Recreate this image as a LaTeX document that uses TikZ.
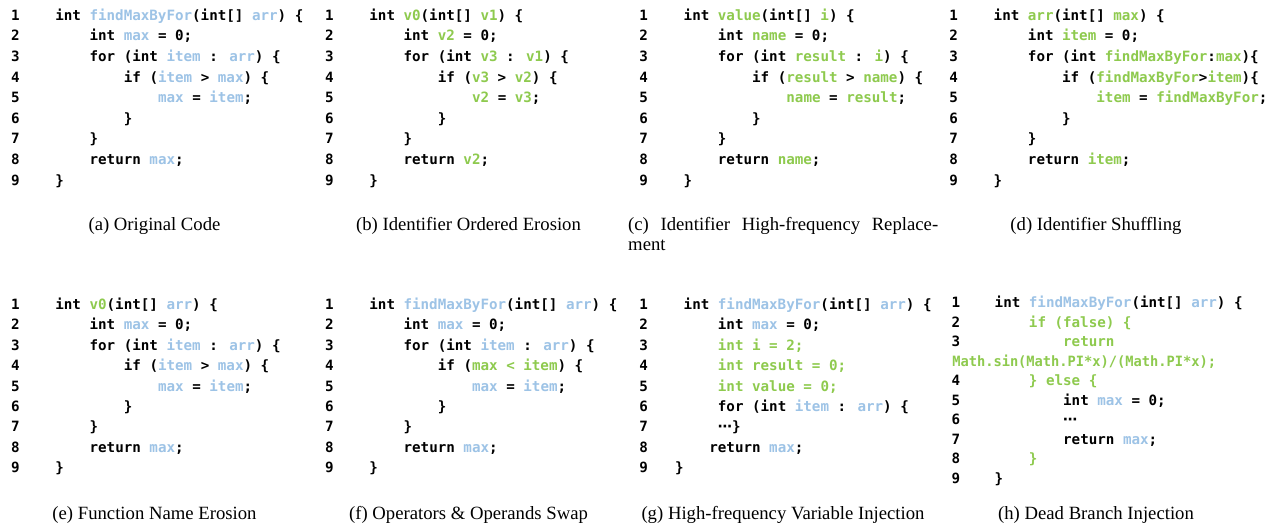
\documentclass[tikz,border=0pt]{standalone}
\usepackage{fontspec}
\usepackage{xcolor}
\usepackage{graphicx}
\usepackage{tikz}
\usetikzlibrary{positioning}
\setmainfont{Liberation Serif}
\newfontfamily\codefam{DejaVu Sans Mono}
\newfontfamily\dotsfam{DejaVu Sans}
\definecolor{idblue}{RGB}{157,195,230}
\definecolor{idgreen}{RGB}{142,202,78}
\newcommand{\idb}[1]{\textcolor{idblue}{#1}}
\newcommand{\idg}[1]{\textcolor{idgreen}{#1}}
\newcommand{\codefont}{\codefam\bfseries\fontsize{14.2pt}{17pt}\selectfont}
\newcommand{\captext}{\fontsize{18.7pt}{22pt}\selectfont}

\begin{document}
\begin{tikzpicture}[
		x=1pt, y=-1pt,
		code/.style={anchor=base west, inner sep=0pt, font=\codefont},
		lnum/.style={anchor=base, inner sep=0pt, font=\codefont},
		subcap/.style={anchor=base, inner sep=0pt, font=\captext}
		]
	
		\path[fill=white, use as bounding box] (0,0) rectangle (1279,527);
	
		% (a) original
		\begin{scope}[shift={(55.2,20.2)}, x=8.56pt, y=-20.6pt]
			\foreach \i in {1,...,9} \node[lnum] (a-n\i) at (-4.65,\i-1) {\i};
			\node[code] (a1) at (0,0) {int \idb{findMaxByFor}(int[] \idb{arr}) \{};
			\node[code] (a2) at (4,1) {int \idb{max} = 0;};
			\node[code] (a3) at (4,2) {for (int \idb{item} : \idb{arr}) \{};
			\node[code] (a4) at (8,3) {if (\idb{item} > \idb{max}) \{};
			\node[code] (a5) at (12,4) {\idb{max} = \idb{item};};
			\node[code] (a6) at (8,5) {\}};
			\node[code] (a7) at (4,6) {\}};
			\node[code] (a8) at (4,7) {return \idb{max};};
			\node[code] (a9) at (0,8) {\}};
		\end{scope}
	
		% (b) ordered erosion
		\begin{scope}[shift={(369.2,20.2)}, x=8.56pt, y=-20.6pt]
			\foreach \i in {1,...,9} \node[lnum] (b-n\i) at (-4.65,\i-1) {\i};
			\node[code] (b1) at (0,0) {int \idg{v0}(int[] \idg{v1}) \{};
			\node[code] (b2) at (4,1) {int \idg{v2} = 0;};
			\node[code] (b3) at (4,2) {for (int \idg{v3} : \idg{v1}) \{};
			\node[code] (b4) at (8,3) {if (\idg{v3} > \idg{v2}) \{};
			\node[code] (b5) at (12,4) {\idg{v2} = \idg{v3};};
			\node[code] (b6) at (8,5) {\}};
			\node[code] (b7) at (4,6) {\}};
			\node[code] (b8) at (4,7) {return \idg{v2};};
			\node[code] (b9) at (0,8) {\}};
		\end{scope}
	
		% (c) high-frequency replacement
		\begin{scope}[shift={(683.5,20.2)}, x=8.56pt, y=-20.6pt]
			\foreach \i in {1,...,9} \node[lnum] (c-n\i) at (-4.65,\i-1) {\i};
			\node[code] (c1) at (0,0) {int \idg{value}(int[] \idg{i}) \{};
			\node[code] (c2) at (4,1) {int \idg{name} = 0;};
			\node[code] (c3) at (4,2) {for (int \idg{result} : \idg{i}) \{};
			\node[code] (c4) at (8,3) {if (\idg{result} > \idg{name}) \{};
			\node[code] (c5) at (12,4) {\idg{name} = \idg{result};};
			\node[code] (c6) at (8,5) {\}};
			\node[code] (c7) at (4,6) {\}};
			\node[code] (c8) at (4,7) {return \idg{name};};
			\node[code] (c9) at (0,8) {\}};
		\end{scope}
	
		% (d) shuffling
		\begin{scope}[shift={(993.5,20.2)}, x=8.56pt, y=-20.6pt]
			\foreach \i in {1,...,9} \node[lnum] (d-n\i) at (-4.65,\i-1) {\i};
			\node[code] (d1) at (0,0) {int \idg{arr}(int[] \idg{max}) \{};
			\node[code] (d2) at (4,1) {int \idg{item} = 0;};
			\node[code] (d3) at (4,2) {for (int \idg{findMaxByFor}:\idg{max})\{};
			\node[code] (d4) at (8,3) {if (\idg{findMaxByFor}>\idg{item})\{};
			\node[code] (d5) at (12,4) {\idg{item} = \idg{findMaxByFor};};
			\node[code] (d6) at (8,5) {\}};
			\node[code] (d7) at (4,6) {\}};
			\node[code] (d8) at (4,7) {return \idg{item};};
			\node[code] (d9) at (0,8) {\}};
		\end{scope}
	
		% (e) function name erosion
		\begin{scope}[shift={(55.2,309.2)}, x=8.56pt, y=-20.45pt]
			\foreach \i in {1,...,9} \node[lnum] (e-n\i) at (-4.65,\i-1) {\i};
			\node[code] (e1) at (0,0) {int \idg{v0}(int[] \idb{arr}) \{};
			\node[code] (e2) at (4,1) {int \idb{max} = 0;};
			\node[code] (e3) at (4,2) {for (int \idb{item} : \idb{arr}) \{};
			\node[code] (e4) at (8,3) {if (\idb{item} > \idb{max}) \{};
			\node[code] (e5) at (12,4) {\idb{max} = \idb{item};};
			\node[code] (e6) at (8,5) {\}};
			\node[code] (e7) at (4,6) {\}};
			\node[code] (e8) at (4,7) {return \idb{max};};
			\node[code] (e9) at (0,8) {\}};
		\end{scope}
	
		% (f) swap
		\begin{scope}[shift={(369.2,309.2)}, x=8.56pt, y=-20.45pt]
			\foreach \i in {1,...,9} \node[lnum] (f-n\i) at (-4.65,\i-1) {\i};
			\node[code] (f1) at (0,0) {int \idb{findMaxByFor}(int[] \idb{arr}) \{};
			\node[code] (f2) at (4,1) {int \idb{max} = 0;};
			\node[code] (f3) at (4,2) {for (int \idb{item} : \idb{arr}) \{};
			\node[code] (f4) at (8,3) {if (\idg{max < item}) \{};
			\node[code] (f5) at (12,4) {\idb{max} = \idb{item};};
			\node[code] (f6) at (8,5) {\}};
			\node[code] (f7) at (4,6) {\}};
			\node[code] (f8) at (4,7) {return \idb{max};};
			\node[code] (f9) at (0,8) {\}};
		\end{scope}
	
		% (g) variable injection
		\begin{scope}[shift={(683.5,309.2)}, x=8.56pt, y=-20.45pt]
			\foreach \i in {1,...,9} \node[lnum] (g-n\i) at (-4.65,\i-1) {\i};
			\node[code] (g1) at (0,0) {int \idb{findMaxByFor}(int[] \idb{arr}) \{};
			\node[code] (g2) at (4,1) {int \idb{max} = 0;};
			\node[code] (g3) at (4,2) {\idg{int i = 2;}};
			\node[code] (g4) at (4,3) {\idg{int result = 0;}};
			\node[code] (g5) at (4,4) {\idg{int value = 0;}};
			\node[code] (g6) at (4,5) {for (int \idb{item} : \idb{arr}) \{};
			\node[code] (g7) at (4,6) {{\dotsfam ⋯}\}};
			\node[code] (g8) at (3,7) {return \idb{max};};
			\node[code] (g9) at (-1,8) {\}};
		\end{scope}
	
		% (h) dead branch
		\begin{scope}[shift={(994.5,307.9)}, x=8.56pt, y=-19.5pt]
			\foreach \i/\r in {1/0,2/1,3/2,4/4,5/5,6/6,7/7,8/8,9/9} \node[lnum] (h-n\i) at (-4.5,\r) {\i};
			\node[code] (h1) at (0,0) {int \idb{findMaxByFor}(int[] \idb{arr}) \{};
			\node[code] (h2) at (4,1) {\idg{if (false) \{}};
			\node[code] (h3) at (8,2) {\idg{return}};
			\node[code] (hm) at (-4.96,3) {\scalebox{0.965}[1]{\idg{Math.sin(Math.PI*x)/(Math.PI*x);}}};
			\node[code] (h4) at (4,4) {\idg{\} else \{}};
			\node[code] (h5) at (8,5) {int \idb{max} = 0;};
			\node[code] (h6) at (8,6) {{\dotsfam ⋯}};
			\node[code] (h7) at (8,7) {return \idb{max};};
			\node[code] (h8) at (4,8) {\idg{\}}};
			\node[code] (h9) at (0,9) {\}};
		\end{scope}
	
		% captions
		\node[subcap] (capa) at (154.5,230) {(a) Original Code};
		\node[subcap] (capb) at (468.5,230) {(b) Identifier Ordered Erosion};
		\node[subcap, anchor=base west] (capc) at (628,230) {\makebox[310pt][s]{(c) Identifier High-frequency Replace-}};
		\node[subcap, anchor=base west] (capc2) at (628,250.7) {ment};
		\node[subcap] (capd) at (1096,230) {(d) Identifier Shuffling};
		\node[subcap] (cape) at (154.5,519.3) {(e) Function Name Erosion};
		\node[subcap] (capf) at (468.5,519.3) {(f) Operators \& Operands Swap};
		\node[subcap] (capg) at (783,519.3) {(g) High-frequency Variable Injection};
		\node[subcap] (caph) at (1096,519.3) {(h) Dead Branch Injection};
	\end{tikzpicture}
\end{document}
